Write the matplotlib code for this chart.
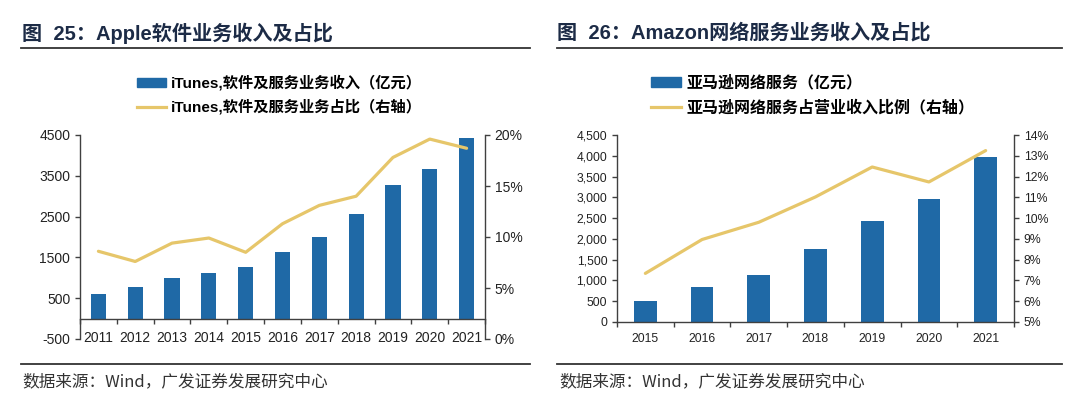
import matplotlib
matplotlib.use('Agg')
import matplotlib.pyplot as plt
from matplotlib.lines import Line2D
from matplotlib.patches import Patch
from matplotlib.ticker import FuncFormatter, FixedLocator

# Apple (left chart)
apple_years = ['2011', '2012', '2013', '2014', '2015', '2016', '2017', '2018', '2019', '2020', '2021']
apple_rev = [600, 767, 983, 1117, 1275, 1625, 1992, 2567, 3275, 3658, 4425]
apple_share = [8.6, 7.6, 9.4, 9.9, 8.5, 11.3, 13.1, 14.0, 17.8, 19.6, 18.7]

# Amazon (right chart)
amzn_years = ['2015', '2016', '2017', '2018', '2019', '2020', '2021']
amzn_rev = [512, 849, 1137, 1754, 2434, 2963, 3964]
amzn_share = [7.34, 8.97, 9.80, 11.02, 12.46, 11.74, 13.25]

BLUE = '#1F69A6'
GOLD = '#E6C66A'
SPINE = '#404040'
TITLE_C = '#1C2B46'
CJK = ['Liberation Sans', 'Noto Sans CJK SC']

plt.rcParams['font.family'] = CJK
plt.rcParams['axes.unicode_minus'] = False
plt.rcParams['axes.edgecolor'] = SPINE
plt.rcParams['xtick.color'] = SPINE
plt.rcParams['ytick.color'] = SPINE

W, H = 1080, 408
fig = plt.figure(figsize=(W / 100, H / 100), dpi=100)


def fx(px):
    return px / W


def fy(py):
    return 1 - py / H


def make_axes(x0, x1, y0, y1):
    return fig.add_axes([fx(x0), fy(y1), fx(x1) - fx(x0), fy(y0) - fy(y1)])


def style_axes(ax, ax2, n, tick_size, label_pad):
    for a in (ax, ax2):
        a.spines['top'].set_visible(False)
        for s in a.spines.values():
            s.set_linewidth(1.0)
    ax.spines['right'].set_visible(False)
    ax2.spines['left'].set_visible(False)
    ax2.spines['bottom'].set_visible(False)
    ax.set_xlim(-0.5, n - 0.5)
    ax.xaxis.set_major_locator(FixedLocator(range(n)))
    ax.xaxis.set_minor_locator(FixedLocator([i - 0.5 for i in range(n + 1)]))
    ax.tick_params(axis='x', which='major', length=0, pad=label_pad, labelsize=tick_size, labelcolor='#222222')
    ax.tick_params(axis='x', which='minor', length=3.5, width=1.0, direction='out')
    ax.tick_params(axis='y', length=3.5, width=1.0, direction='out', labelsize=tick_size, labelcolor='#222222')
    ax2.tick_params(axis='y', length=3.5, width=1.0, direction='out', labelsize=tick_size, labelcolor='#222222')


# ---------- left chart ----------
ax = make_axes(80, 485, 135, 339)
ax2 = ax.twinx()
x = range(len(apple_years))
ax.bar(x, apple_rev, width=0.41, color=BLUE, zorder=2)
ax2.plot(x, apple_share, color=GOLD, lw=2.3, solid_capstyle='round', zorder=3)
ax.set_ylim(-500, 4500)
ax.set_yticks([-500, 500, 1500, 2500, 3500, 4500])
ax.spines['bottom'].set_position(('data', 0))
ax.set_xticks(list(x))
ax.set_xticklabels(apple_years)
ax2.set_ylim(0, 20)
ax2.set_yticks([0, 5, 10, 15, 20])
ax2.yaxis.set_major_formatter(FuncFormatter(lambda v, p: f'{v:.0f}%'))
style_axes(ax, ax2, len(apple_years), 10, 9)

# ---------- right chart ----------
bx = make_axes(617, 1014, 135, 322)
bx2 = bx.twinx()
xb = range(len(amzn_years))
bx.bar(xb, amzn_rev, width=0.40, color=BLUE, zorder=2)
bx2.plot(xb, amzn_share, color=GOLD, lw=2.3, solid_capstyle='round', zorder=3)
bx.set_ylim(0, 4500)
bx.set_yticks(range(0, 4501, 500))
bx.yaxis.set_major_formatter(FuncFormatter(lambda v, p: f'{v:,.0f}'))
bx.set_xticks(list(xb))
bx.set_xticklabels(amzn_years)
bx2.set_ylim(5, 14)
bx2.set_yticks(range(5, 15))
bx2.yaxis.set_major_formatter(FuncFormatter(lambda v, p: f'{v:.0f}%'))
style_axes(bx, bx2, len(amzn_years), 8.8, 8)

# ---------- legends ----------
leg_kw = dict(loc='upper left', bbox_transform=fig.transFigure, frameon=False,
              borderpad=0, borderaxespad=0, handlelength=1.9, handleheight=0.55,
              handletextpad=0.3, labelspacing=0.55)
fig.legend([Patch(color=BLUE), Line2D([], [], color=GOLD, lw=2.3)],
           ['iTunes,软件及服务业务收入（亿元）', 'iTunes,软件及服务业务占比（右轴）'],
           bbox_to_anchor=(fx(137), fy(75)),
           prop={'size': 11, 'weight': 'bold', 'family': CJK}, **leg_kw)
fig.legend([Patch(color=BLUE), Line2D([], [], color=GOLD, lw=2.3)],
           ['亚马逊网络服务（亿元）', '亚马逊网络服务占营业收入比例（右轴）'],
           bbox_to_anchor=(fx(651), fy(75)),
           prop={'size': 11.5, 'weight': 'bold', 'family': CJK}, **leg_kw)

# ---------- titles, rules and sources ----------
fig.text(fx(22), fy(33), '图  25：Apple软件业务收入及占比', fontsize=14.5, fontweight='bold',
         color=TITLE_C, va='center', ha='left', family=CJK)
fig.text(fx(557), fy(33), '图  26：Amazon网络服务业务收入及占比', fontsize=14.5, fontweight='bold',
         color=TITLE_C, va='center', ha='left', family=CJK)
for (a, b) in [(21, 530), (557, 1062)]:
    fig.add_artist(Line2D([fx(a), fx(b)], [fy(48), fy(48)], color='#333333', lw=1.3))
    fig.add_artist(Line2D([fx(a), fx(b)], [fy(364), fy(364)], color='#333333', lw=1.3))
src_font = ['Noto Sans CJK SC', 'Liberation Sans']
fig.text(fx(22), fy(382), '数据来源：Wind，广发证券发展研究中心', fontsize=12, color='#333333',
         va='center', ha='left', family=src_font)
fig.text(fx(559), fy(382), '数据来源：Wind，广发证券发展研究中心', fontsize=12, color='#333333',
         va='center', ha='left', family=src_font)

fig.savefig('out.png', dpi=100)
